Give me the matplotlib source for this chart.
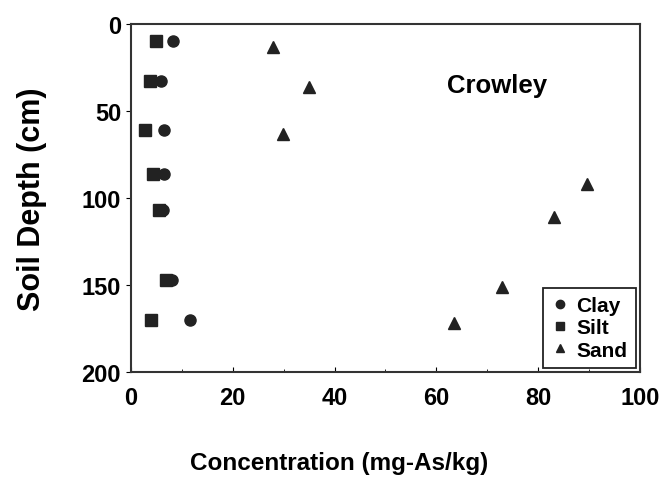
import numpy as np
import matplotlib
matplotlib.use('Agg')
from matplotlib import pyplot as plt
from matplotlib.ticker import MultipleLocator

plt.rcParams['font.family'] = ['Liberation Sans', 'DejaVu Sans']
plt.rcParams['font.weight'] = 'bold'

# depth (cm) and concentration (mg-As/kg)
clay_depth = [10, 33, 61, 86, 107, 147, 170]
clay_conc = [8.2, 6.0, 6.6, 6.6, 6.4, 8.0, 11.6]

silt_depth = [10, 33, 61, 86, 107, 147, 170]
silt_conc = [5.0, 3.8, 2.8, 4.4, 5.6, 7.0, 4.0]

sand_depth = [13, 36, 63, 92, 111, 151, 172]
sand_conc = [28.0, 35.0, 29.8, 89.5, 83.0, 72.8, 63.5]

xticks = [0, 20, 40, 60, 80, 100]
yticks = [0, 50, 100, 150, 200]

fig = plt.figure(figsize=(6.64, 4.89), dpi=100)
ax = fig.add_axes([0.197, 0.237, 0.767, 0.712])

mk = dict(color='#222222', linestyle='none', markersize=8)
ax.plot(clay_conc, clay_depth, marker='o', label='Clay', **mk)
ax.plot(silt_conc, silt_depth, marker='s', label='Silt', **mk)
ax.plot(sand_conc, sand_depth, marker='^', label='Sand', **mk)

ax.set_xlim(0, 100)
ax.set_ylim(200, 0)
ax.set_xticks(xticks)
ax.set_yticks(yticks)
ax.xaxis.set_minor_locator(MultipleLocator(10))
ax.tick_params(axis='x', which='both', direction='in', labelsize=17, pad=10)
ax.tick_params(axis='y', direction='out', labelsize=17)
for s in ax.spines.values():
    s.set_linewidth(1.5)
    s.set_color('#333333')

ax.set_xlabel('Concentration (mg-As/kg)', fontsize=17.5, fontweight='bold')
ax.xaxis.set_label_coords(0.41, -0.226)
ax.set_ylabel('Soil Depth (cm)', fontsize=22, fontweight='bold')
ax.yaxis.set_label_coords(-0.165, 0.5)

ax.text(72, 35, 'Crowley', fontsize=18.5, fontweight='bold', ha='center', va='center')

leg = ax.legend(loc='lower right', fancybox=False, edgecolor='#222222', framealpha=1,
                handlelength=0.8, handletextpad=0.4, borderaxespad=0.2, labelspacing=0.15,
                prop={'size': 15, 'weight': 'bold'}, markerscale=0.75)
leg.get_frame().set_linewidth(1.3)

fig.savefig('out.png', dpi=100)
